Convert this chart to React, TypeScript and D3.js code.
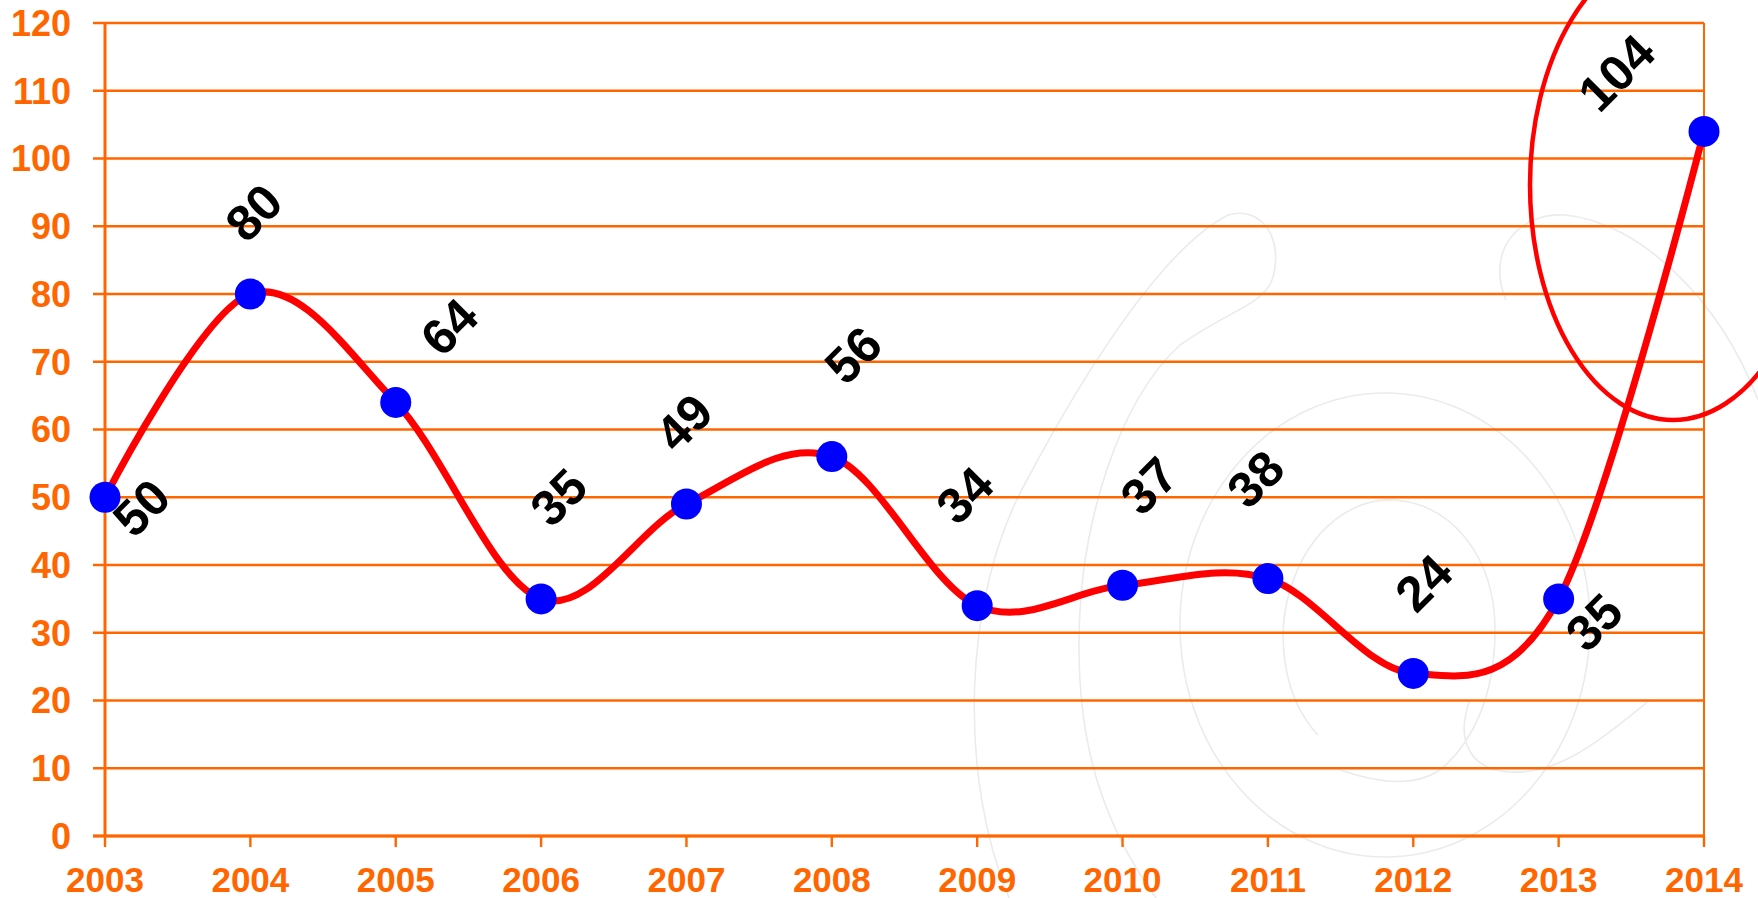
import React from 'react';
import * as d3 from 'd3';

const years = ['2003', '2004', '2005', '2006', '2007', '2008', '2009', '2010', '2011', '2012', '2013', '2014'];
const values = [50, 80, 64, 35, 49, 56, 34, 37, 38, 24, 35, 104];
const yTicks = [0, 10, 20, 30, 40, 50, 60, 70, 80, 90, 100, 110, 120];
// label offsets (dx, dy) from each point, in px
const labelOffsets: [number, number][] = [
  [36, 10], [3, -82], [53, -76], [17, -102], [-3, -82], [21, -102],
  [-13, -111], [26, -100], [-13, -100], [10, -91], [35, 23], [-88, -59],
];

const W = 1758;
const H = 898;
const ORANGE = '#FF6600';
const FONT = '"Liberation Sans", Arial, sans-serif';

export default function App() {
  const x = d3.scalePoint<string>().domain(years).range([105, 1704]);
  const y = d3.scaleLinear().domain([0, 120]).range([836, 23]);
  const pts: [number, number][] = years.map((yr, i) => [x(yr) as number, y(values[i])]);
  const line = d3.line().curve(d3.curveCardinal.tension(0))(pts) as string;
  const left = x(years[0]) as number;
  const right = x(years[years.length - 1]) as number;

  const wm = '#ebebeb';
  return (
    <svg width={W} height={H} style={{ position: 'absolute', left: 0, top: 0, display: 'block', background: '#fff' }}>
      {/* faint watermark */}
      <g fill="none" stroke={wm} strokeWidth={1.6}>
        <path d="M 1009 898 C 960 780, 960 600, 1027 480 C 1080 380, 1160 250, 1228 215 C 1262 205, 1285 240, 1272 280 C 1262 305, 1230 310, 1180 345 C 1120 400, 1080 520, 1079 640 C 1078 740, 1100 820, 1156 898" />
        <ellipse cx={1385} cy={625} rx={205} ry={232} />
        <path d="M 1318 735 C 1285 700, 1275 640, 1290 590 C 1310 525, 1355 498, 1395 500 C 1455 505, 1495 560, 1495 630 C 1495 700, 1470 745, 1440 770 C 1410 790, 1370 780, 1340 770" />
        <path d="M 1506 300 C 1485 250, 1520 212, 1565 215 C 1640 222, 1720 300, 1758 400" />
        <path d="M 1470 700 C 1455 740, 1470 770, 1510 772 C 1560 775, 1600 740, 1650 700" />
      </g>

      {/* gridlines */}
      <g>
        {yTicks.map((t) => (
          <line key={t} x1={93} x2={right} y1={y(t)} y2={y(t)} stroke={ORANGE} strokeWidth={2.4} />
        ))}
      </g>
      {/* axes */}
      <line x1={left} x2={left} y1={y(120)} y2={y(0)} stroke={ORANGE} strokeWidth={3} />
      <line x1={right} x2={right} y1={y(120)} y2={y(0) + 11} stroke={ORANGE} strokeWidth={2} />
      <line x1={93} x2={right} y1={y(0)} y2={y(0)} stroke={ORANGE} strokeWidth={3} />
      {years.map((yr) => (
        <line key={yr} x1={x(yr)} x2={x(yr)} y1={y(0)} y2={y(0) + 11} stroke={ORANGE} strokeWidth={2.4} />
      ))}

      {/* y labels */}
      {yTicks.map((t) => (
        <text key={t} x={71} y={y(t)} dy="0.36em" textAnchor="end" fontFamily={FONT} fontWeight="bold" fontSize={36} fill={ORANGE}>
          {t}
        </text>
      ))}
      {/* x labels */}
      {years.map((yr) => (
        <text key={yr} x={x(yr)} y={892} textAnchor="middle" fontFamily={FONT} fontWeight="bold" fontSize={35} fill={ORANGE}>
          {yr}
        </text>
      ))}

      {/* line */}
      <path d={line} fill="none" stroke="#FF0000" strokeWidth={7} strokeLinejoin="round" strokeLinecap="round" />
      {pts.map(([px, py], i) => (
        <circle key={i} cx={px} cy={py} r={15.5} fill="#0000FF" />
      ))}

      {/* data labels */}
      {pts.map(([px, py], i) => {
        const lx = px + labelOffsets[i][0];
        const ly = py + labelOffsets[i][1];
        return (
          <text key={i} x={lx} y={ly} dy="0.36em" textAnchor="middle" fontFamily={FONT} fontWeight="bold" fontSize={50} fill="#000" transform={`rotate(-45 ${lx} ${ly})`}>
            {values[i]}
          </text>
        );
      })}

      {/* highlight ellipse */}
      <ellipse cx={1673} cy={185} rx={143} ry={235} fill="none" stroke="#FF0000" strokeWidth={4.5} />
    </svg>
  );
}
